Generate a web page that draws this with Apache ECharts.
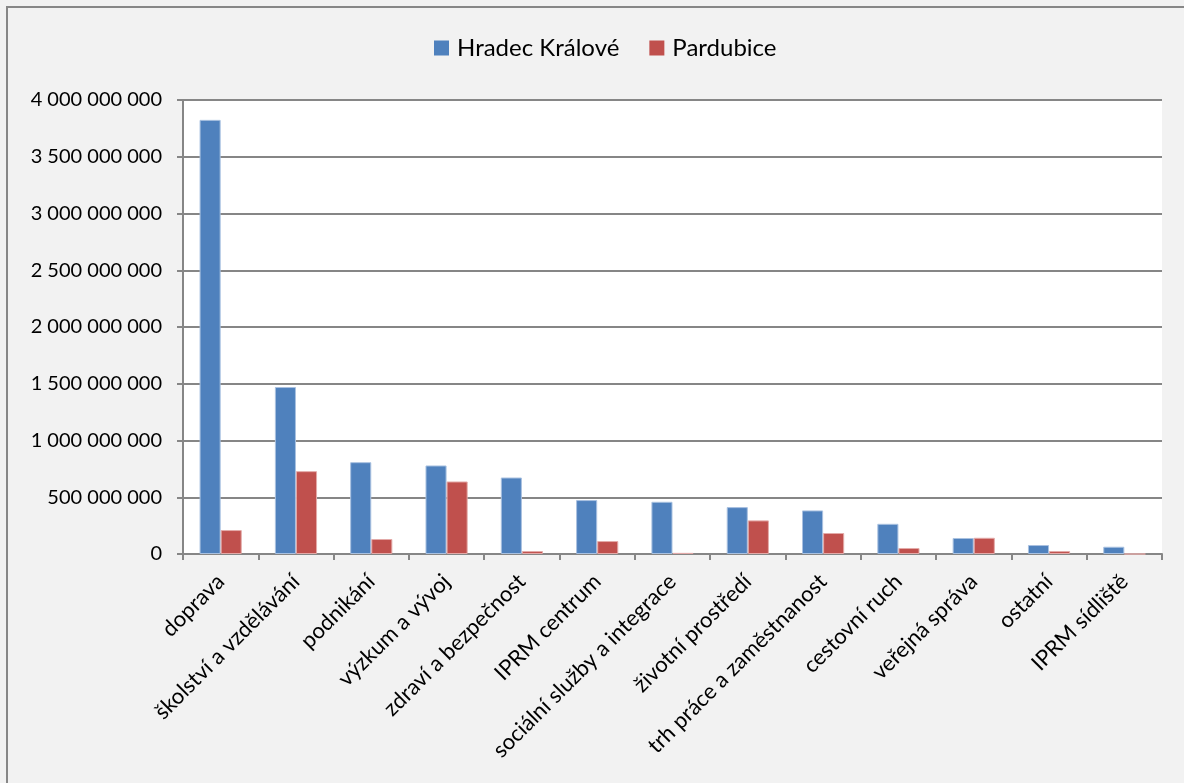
<!DOCTYPE html>
<html>
<head>
<meta charset="utf-8">
<script src="https://cdn.jsdelivr.net/npm/echarts@6/dist/echarts.min.js"></script>
<style>
html,body{margin:0;padding:0;background:#f2f2f2;overflow:hidden;width:1184px;height:783px;}
#wrap{position:absolute;left:0;top:0;width:1184px;height:783px;overflow:hidden;}
#lineTop{position:absolute;left:6px;top:6px;width:1300px;height:2px;background:#878787;}
#lineLeft{position:absolute;left:6px;top:6px;width:2px;height:900px;background:#878787;}
#c{position:absolute;left:0;top:0;width:1184px;height:783px;}
</style>
</head>
<body>
<div id="wrap">
<div id="lineTop"></div>
<div id="lineLeft"></div>
<div id="c"></div>
</div>
<script>
const categories = ["doprava","školství a vzdělávání","podnikání","výzkum a vývoj","zdraví a bezpečnost","IPRM centrum","sociální služby a integrace","životní prostředí","trh práce a zaměstnanost","cestovní ruch","veřejná správa","ostatní","IPRM sídliště"];
const hradec = [3825000000,1471000000,809000000,780000000,674000000,475000000,460000000,413000000,384000000,266000000,141000000,79000000,64000000];
const pardubice = [211000000,730000000,132000000,639000000,26000000,114000000,10000000,296000000,185000000,53000000,143000000,26000000,0];
const seriesNames = ["Hradec Králové","Pardubice"];

function fmt(v){return String(v).replace(/\B(?=(\d{3})+(?!\d))/g,' ');}
const font = 'Lato, "Open Sans", sans-serif';
const chart = echarts.init(document.getElementById('c'));
chart.setOption({
  backgroundColor: 'transparent',
  animation: false,
  textStyle: {fontFamily: font},
  legend: {
    top: 31, left: 429,
    itemWidth: 15, itemHeight: 15, itemGap: 30,
    icon: 'rect',
    itemStyle: {borderWidth: 0},
    textStyle: {fontSize: 24, color: '#000', fontFamily: font, padding: [0,0,0,3]},
    data: seriesNames
  },
  grid: {left: 183, right: 22, top: 100, bottom: 229, backgroundColor: '#fff', show: true, borderWidth: 0},
  xAxis: {
    type: 'category', data: categories,
    axisLine: {lineStyle: {color: '#868686', width: 2}},
    axisTick: {show: true, alignWithLabel: false, length: 6, lineStyle: {color: '#868686', width: 2}},
    axisLabel: {rotate: 45, fontSize: 22, color: '#000', margin: 24, interval: 0, fontFamily: font}
  },
  yAxis: {
    type: 'value', min: 0, max: 4000000000, interval: 500000000,
    axisLine: {show: true, lineStyle: {color: '#868686', width: 2}},
    axisTick: {show: true, length: 6, lineStyle: {color: '#868686', width: 2}},
    splitLine: {lineStyle: {color: '#868686', width: 2}},
    axisLabel: {fontSize: 20, color: '#000', margin: 21, formatter: fmt, fontFamily: font}
  },
  series: [
    {name: seriesNames[0], type: 'bar', data: hradec, barGap: '0%', barCategoryGap: '44%',
     itemStyle: {color: '#4f81bd', borderColor: '#a9c1e0', borderWidth: 1}},
    {name: seriesNames[1], type: 'bar', data: pardubice,
     itemStyle: {color: '#c0504d', borderColor: '#e3aaa8', borderWidth: 1}}
  ]
});
</script>
</body>
</html>
